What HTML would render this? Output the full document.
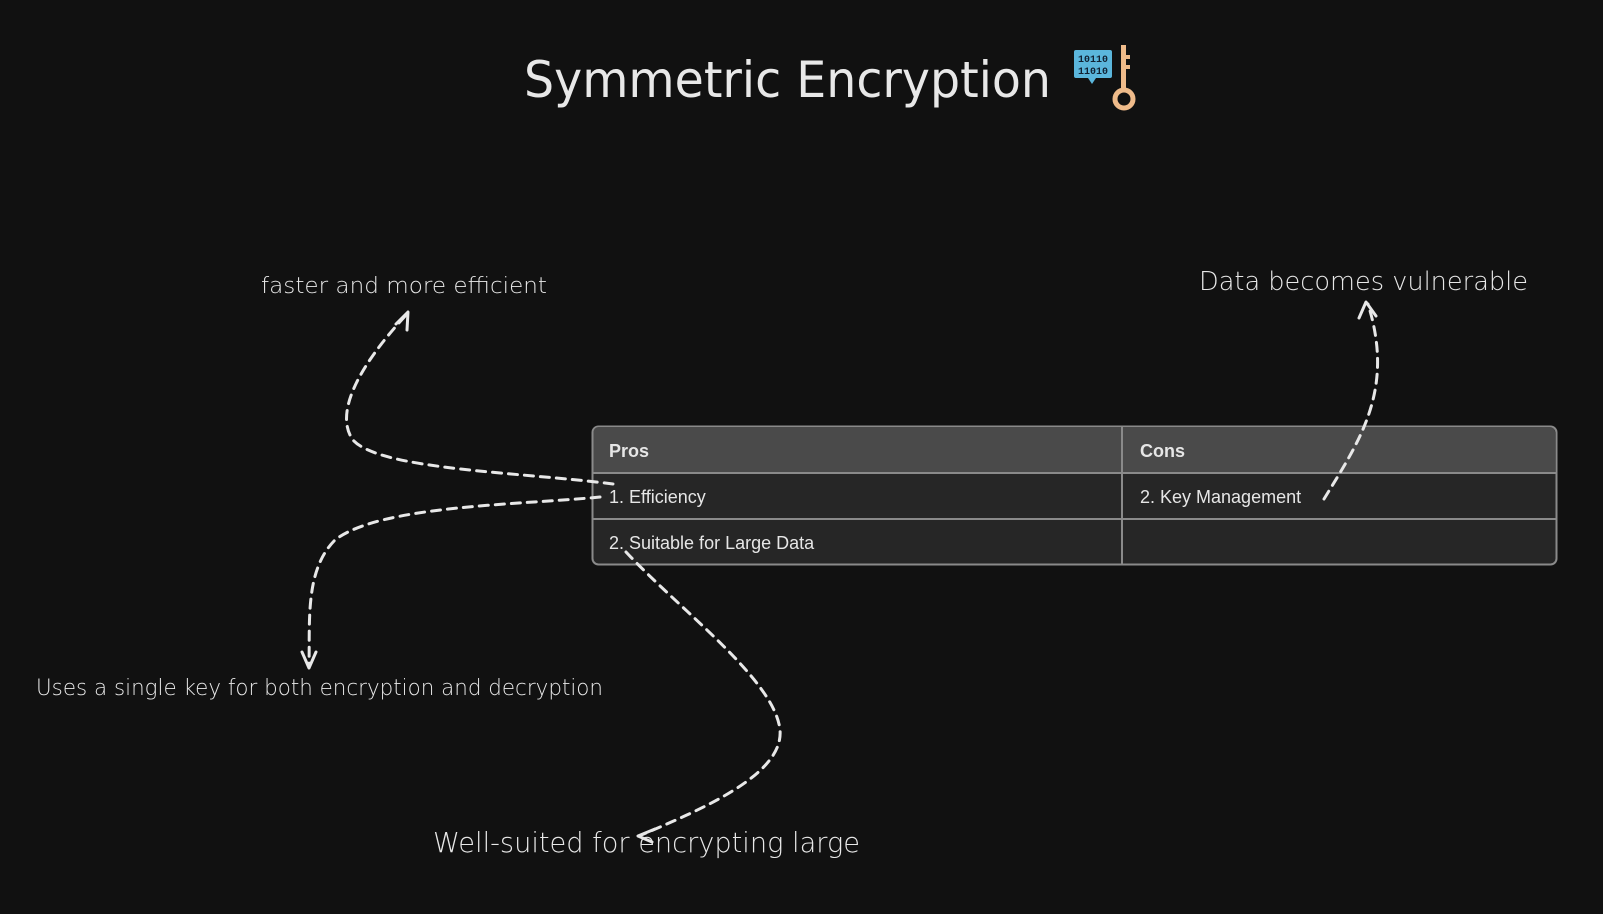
<!DOCTYPE html>
<html><head><meta charset="utf-8"><style>
html,body{margin:0;padding:0;background:#111;width:1603px;height:914px;overflow:hidden}
svg{display:block}
.h{font-family:"DejaVu Sans","Liberation Sans",sans-serif;fill:#e8e8e8;font-weight:300}
.t{font-family:"Liberation Sans",sans-serif;fill:#e6e6e6;font-size:18px}
</style></head><body>
<svg width="1603" height="914" viewBox="0 0 1603 914">
<rect width="1603" height="914" fill="#111"/>
<text class="h" x="524" y="97" font-size="50" font-weight="normal" style="font-weight:normal" textLength="527" lengthAdjust="spacingAndGlyphs">Symmetric Encryption</text>
<rect x="1074" y="50" width="38" height="28" rx="2" fill="#5bb6dc"/>
<polygon points="1088,78 1096,78 1092,84" fill="#5bb6dc"/>
<text x="1093" y="62" font-family="Liberation Mono,monospace" font-size="10" font-weight="bold" fill="#123" text-anchor="middle">10110</text>
<text x="1093" y="74" font-family="Liberation Mono,monospace" font-size="10" font-weight="bold" fill="#123" text-anchor="middle">11010</text>
<rect x="1121" y="45" width="5" height="47" fill="#efbb8a"/>
<rect x="1126" y="55" width="4" height="4" fill="#efbb8a"/><rect x="1126" y="65" width="4" height="4" fill="#efbb8a"/>
<circle cx="1124" cy="99" r="9" fill="none" stroke="#efbb8a" stroke-width="5"/>
<rect x="592.5" y="426.5" width="964" height="138" rx="6" fill="#262626" stroke="#8a8a8a" stroke-width="2"/>
<path d="M593.5 473 V432 a5 5 0 0 1 5 -5 H1550 a5 5 0 0 1 5 5 V473 Z" fill="#4a4a4a"/>
<line x1="592" y1="473" x2="1557" y2="473" stroke="#8a8a8a" stroke-width="2"/>
<line x1="592" y1="519" x2="1557" y2="519" stroke="#8a8a8a" stroke-width="2"/>
<line x1="1122" y1="426" x2="1122" y2="564" stroke="#8a8a8a" stroke-width="2"/>
<text class="t" x="609" y="457" font-weight="bold">Pros</text>
<text class="t" x="1140" y="457" font-weight="bold">Cons</text>
<text class="t" x="609" y="503">1. Efficiency</text>
<text class="t" x="1140" y="503">2. Key Management</text>
<text class="t" x="609" y="549">2. Suitable for Large Data</text>
<text class="h" x="261" y="293" font-size="22" textLength="286" lengthAdjust="spacingAndGlyphs">faster and more efficient</text>
<text class="h" x="1199" y="290" font-size="26" textLength="329" lengthAdjust="spacingAndGlyphs">Data becomes vulnerable</text>
<text class="h" x="36" y="695" font-size="22" textLength="567" lengthAdjust="spacingAndGlyphs">Uses a single key for both encryption and decryption</text>
<text class="h" x="433" y="852" font-size="28" textLength="427" lengthAdjust="spacingAndGlyphs">Well-suited for encrypting large</text>
<g fill="none" stroke="#e8e8e8" stroke-width="3" stroke-dasharray="9 7" stroke-linecap="round">
<path d="M613 484 C520 472 380 470 353 440 C335 415 355 370 407 314"/>
<path d="M600 497 C520 505 380 505 335 540 C305 570 310 620 309 665"/>
<path d="M626 552 C680 610 775 680 780 730 C784 775 700 810 639 836"/>
<path d="M1324 499 C1360 440 1395 390 1368 304"/>
</g>
<g fill="none" stroke="#e8e8e8" stroke-width="3" stroke-linecap="round" stroke-linejoin="round">
<path d="M396 324 L408 312 L407 330"/>
<path d="M302 652 L309 668 L316 652"/>
<path d="M655 829 L638 836 L652 842"/>
<path d="M1359 318 L1366 302 L1376 316"/>
</g>
</svg>
</body></html>
